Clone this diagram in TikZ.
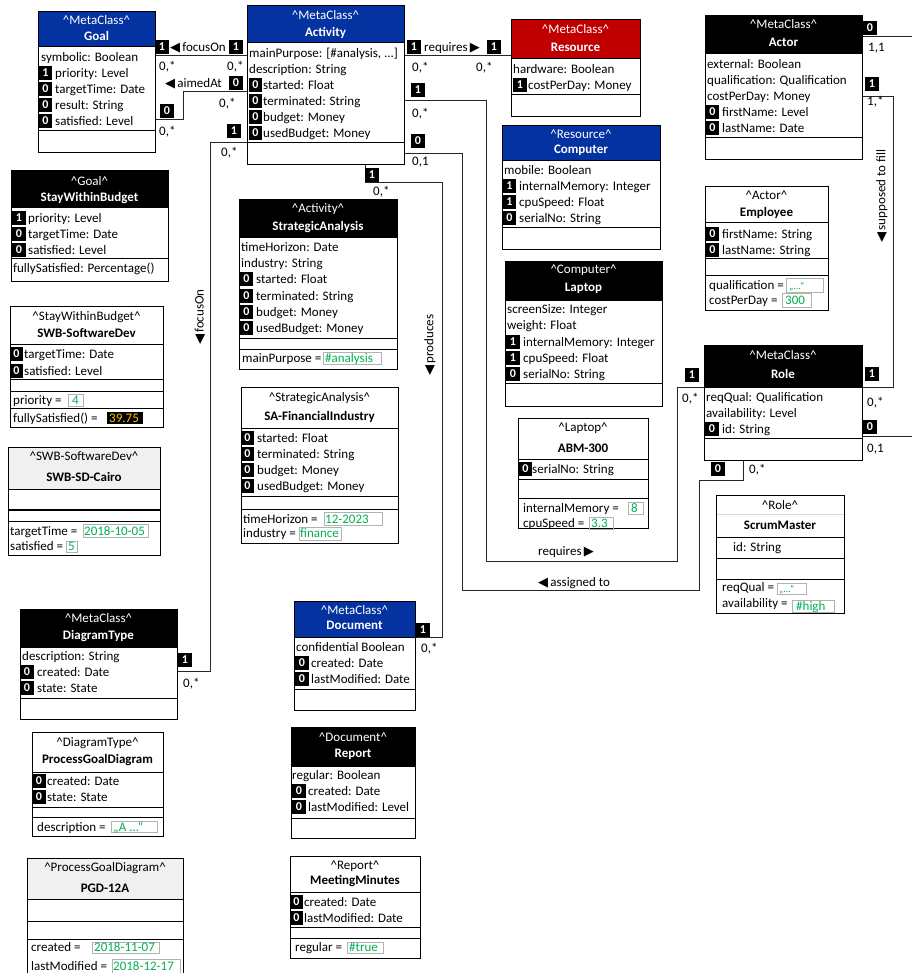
\documentclass[tikz,border=0pt]{standalone}
\usepackage{fontspec}
\setmainfont{Carlito}
\newfontfamily\symfont{DejaVu Sans}
\definecolor{hblue}{RGB}{4,50,160}
\definecolor{hred}{RGB}{192,0,0}
\definecolor{hgrey}{RGB}{240,240,240}
\definecolor{vgreen}{RGB}{0,176,80}
\definecolor{vorange}{RGB}{255,192,0}
\newcommand\fs{\fontsize{13}{15}\selectfont}
\newcommand\trileft{{\symfont\fontsize{13}{13}\selectfont ◀}}
\newcommand\triright{{\symfont\fontsize{13}{13}\selectfont ▶}}
\newcommand\st[1]{\textasciicircum #1\textasciicircum}
\tikzset{
 classframe/.style={draw=black, line width=1.1pt, inner sep=0pt, anchor=north west},
 cpt/.style={line width=1pt},
 atr/.style={anchor=base west, inner sep=0pt, font=\fs, yshift=-4.5pt},
 stereo/.style={anchor=base, inner sep=0pt, font=\fs, yshift=-4.5pt},
 cname/.style={anchor=base, inner sep=0pt, font=\fs\bfseries, yshift=-4.5pt},
 badge/.style={fill=black, text=white, font=\fontsize{12}{12}\selectfont\bfseries, minimum width=13.5pt, minimum height=14pt, inner sep=0pt},
 vframe/.style={draw=black!30, line width=0.7pt},
 vtxt/.style={anchor=base west, inner sep=0pt, font=\fs, text=vgreen, yshift=-4.5pt},
 mult/.style={anchor=base west, inner sep=0pt, font=\fs, yshift=-4.5pt},
 vlab/.style={anchor=center, inner sep=0pt, font=\fs, rotate=90},
 conn/.style={draw=black!85, line width=0.8pt},
}
\begin{document}
\begin{tikzpicture}[x=1pt,y=-1pt]
\useasboundingbox (0,0) rectangle (912,973);
\fill[white] (0,0) rectangle (912,973);

% ---------------- Goal
\fill[hblue] (38,11) rectangle (155,47);
\draw[cpt] (38,47)--(155,47) (38,131)--(155,131);
\node[classframe, minimum width=117pt, minimum height=141pt] (goal) at (38,11) {};
\node[stereo,text=white] (goalS) at (96.5,20) {\st{MetaClass}};
\node[cname,text=white] (goalN) at (96.5,36) {Goal};
\node[atr] at (41,57) {symbolic: Boolean};
\node[badge] at (45.5,73) {1}; \node[atr] at (55,73) {priority: Level};
\node[badge] at (45.5,89) {0}; \node[atr] at (55,89) {targetTime: Date};
\node[badge] at (45.5,105) {0}; \node[atr] at (55,105) {result: String};
\node[badge] at (45.5,121) {0}; \node[atr] at (55,121) {satisfied: Level};

% ---------------- Activity
\fill[hblue] (247,5) rectangle (404,43);
\draw[cpt] (247,43)--(404,43) (247,143)--(404,143);
\node[classframe, minimum width=157pt, minimum height=159pt] (act) at (247,5) {};
\node[stereo,text=white] at (325.5,15) {\st{MetaClass}};
\node[cname,text=white] at (325.5,32) {Activity};
\node[atr] at (249,53) {mainPurpose: [\#analysis, ...]};
\node[atr] at (249,69) {description: String};
\node[badge] at (255.5,85) {0}; \node[atr] at (263,85) {started: Float};
\node[badge] at (255.5,101) {0}; \node[atr] at (263,101) {terminated: String};
\node[badge] at (255.5,117) {0}; \node[atr] at (263,117) {budget: Money};
\node[badge] at (255.5,133) {0}; \node[atr] at (263,133) {usedBudget: Money};

% ---------------- Resource
\fill[hred] (511,19) rectangle (640,59);
\draw[cpt] (511,59)--(640,59) (511,95)--(640,95);
\node[classframe, minimum width=129pt, minimum height=97pt] (res) at (511,19) {};
\node[stereo,text=white] at (575.5,29) {\st{MetaClass}};
\node[cname,text=white] at (575.5,47) {Resource};
\node[atr] at (513,69) {hardware: Boolean};
\node[badge] at (520,85) {1}; \node[atr] at (528,85) {costPerDay: Money};

% ---------------- Computer
\fill[hblue] (502,125) rectangle (660,161);
\draw[cpt] (502,161)--(660,161) (502,228)--(660,228);
\node[classframe, minimum width=158pt, minimum height=124pt] (comp) at (502,125) {};
\node[stereo,text=white] at (581,134) {\st{Resource}};
\node[cname,text=white] at (581,149) {Computer};
\node[atr] at (504,170) {mobile: Boolean};
\node[badge] at (509.5,186) {1}; \node[atr] at (519,186) {internalMemory: Integer};
\node[badge] at (509.5,202) {1}; \node[atr] at (519,202) {cpuSpeed: Float};
\node[badge] at (509.5,218) {0}; \node[atr] at (519,218) {serialNo: String};

% ---------------- Actor
\fill[black] (705,15) rectangle (862,54);
\draw[cpt] (705,54)--(862,54) (705,138)--(862,138);
\node[classframe, minimum width=157pt, minimum height=144pt] (actor) at (705,15) {};
\node[stereo,text=white] at (783.5,24) {\st{MetaClass}};
\node[cname,text=white] at (783.5,42) {Actor};
\node[atr] at (707,64) {external: Boolean};
\node[atr] at (707,80) {qualification: Qualification};
\node[atr] at (707,96) {costPerDay: Money};
\node[badge] at (712.5,112) {0}; \node[atr] at (722,112) {firstName: Level};
\node[badge] at (712.5,128) {0}; \node[atr] at (722,128) {lastName: Date};

% ---------------- Employee
\draw[cpt] (705,223)--(828,223) (705,259)--(828,259) (705,276)--(828,276);
\node[classframe, minimum width=123pt, minimum height=124pt] (empl) at (705,186) {};
\node[stereo] at (766.5,195) {\st{Actor}};
\node[cname] at (766.5,212) {Employee};
\node[badge] at (712.5,234) {0}; \node[atr] at (722,234) {firstName: String};
\node[badge] at (712.5,250) {0}; \node[atr] at (722,250) {lastName: String};
\node[atr] at (709,285) {qualification =};
\draw[vframe] (786,278) rectangle (823,292);
\node[vtxt, font=\fontsize{10}{10}\selectfont] at (789,285) {„...“};
\node[atr] at (709,300) {costPerDay =};
\draw[vframe] (782,293) rectangle (811,307);
\node[vtxt] at (785,300) {300};

% ---------------- Role
\fill[black] (704,345) rectangle (862,387);
\draw[cpt] (704,387)--(862,387) (704,438)--(862,438);
\node[classframe, minimum width=158pt, minimum height=115pt] (role) at (704,345) {};
\node[stereo,text=white] at (783,355) {\st{MetaClass}};
\node[cname,text=white] at (783,374) {Role};
\node[atr] at (706,397) {reqQual: Qualification};
\node[atr] at (706,413) {availability: Level};
\node[badge] at (712,429) {0}; \node[atr] at (722,429) {id: String};

% ---------------- ScrumMaster
\draw[black!15, line width=0.6pt] (716,514)--(844,514);
\draw[cpt] (716,537)--(844,537) (716,558)--(844,558) (716,579)--(844,579);
\node[classframe, minimum width=128pt, minimum height=118pt] (scrum) at (716,495) {};
\node[stereo] at (780,505) {\st{Role}};
\node[cname] at (780,525) {ScrumMaster};
\node[atr] at (733,547) {id: String};
\node[atr] at (722,587) {reqQual =};
\draw[vframe] (777,583) rectangle (806,594);
\node[vtxt, font=\fontsize{10}{10}\selectfont] at (779,588) {„...“};
\node[atr] at (722,603) {availability =};
\draw[vframe] (792,600) rectangle (834,612);
\node[vtxt] at (796,606) {\#high};

% ---------------- StayWithinBudget
\fill[black] (11,170) rectangle (168,208);
\draw[cpt] (11,208)--(168,208) (11,259)--(168,259);
\node[classframe, minimum width=157pt, minimum height=111pt] (swb) at (11,170) {};
\node[stereo,text=white] at (89.5,181) {\st{Goal}};
\node[cname,text=white] at (89.5,197) {StayWithinBudget};
\node[badge] at (19,218) {1}; \node[atr] at (28,218) {priority: Level};
\node[badge] at (19,234) {0}; \node[atr] at (28,234) {targetTime: Date};
\node[badge] at (19,250) {0}; \node[atr] at (28,250) {satisfied: Level};
\node[atr] at (13,268) {fullySatisfied: Percentage()};

% ---------------- SWB-SoftwareDev
\draw[cpt] (10,344)--(163,344) (10,379)--(163,379) (10,391)--(163,391) (10,408)--(163,408);
\node[classframe, minimum width=153pt, minimum height=121pt] (swbsd) at (10,306) {};
\node[stereo] at (86.5,316) {\st{StayWithinBudget}};
\node[cname] at (86.5,333) {SWB-SoftwareDev};
\node[badge] at (16.5,354) {0}; \node[atr] at (24,354) {targetTime: Date};
\node[badge] at (16.5,371) {0}; \node[atr] at (24,371) {satisfied: Level};
\node[atr] at (13,400) {priority =};
\draw[vframe] (68,394) rectangle (83,406);
\node[vtxt] at (72,400) {4};
\node[atr] at (13,418) {fullySatisfied() =};
\fill[black] (107,412) rectangle (143,424);
\node[vtxt, text=vorange] at (109,418) {39.75};

% ---------------- SWB-SD-Cairo
\fill[hgrey] (8,447) rectangle (160,489);
\draw[cpt] (8,489)--(160,489) (8,521)--(160,521);
\draw[line width=1.8pt] (8,510)--(160,510);
\node[classframe, minimum width=152pt, minimum height=108pt] (cairo) at (8,447) {};
\node[stereo] at (84,456) {\st{SWB-SoftwareDev}};
\node[cname] at (84,477) {SWB-SD-Cairo};
\node[atr] at (10,531) {targetTime =};
\draw[vframe] (83,524) rectangle (148,537);
\node[vtxt] at (84,531) {2018-10-05};
\node[atr] at (10,546) {satisfied =};
\draw[vframe] (66,541) rectangle (77,552);
\node[vtxt] at (68,546) {5};

% ---------------- DiagramType
\fill[black] (20,609) rectangle (177,647);
\draw[cpt] (20,647)--(177,647) (20,698)--(177,698);
\node[classframe, minimum width=157pt, minimum height=110pt] (dtype) at (20,609) {};
\node[stereo,text=white] at (98.5,618) {\st{MetaClass}};
\node[cname,text=white] at (98.5,635) {DiagramType};
\node[atr] at (22,656) {description: String};
\node[badge] at (27,672) {0}; \node[atr] at (37,672) {created: Date};
\node[badge] at (27,688) {0}; \node[atr] at (37,688) {state: State};

% ---------------- ProcessGoalDiagram
\draw[cpt] (32,772)--(163,772) (32,807)--(163,807) (32,817)--(163,817);
\node[classframe, minimum width=131pt, minimum height=104pt] (pgd) at (32,732) {};
\node[stereo] at (97.5,742) {\st{DiagramType}};
\node[cname] at (97.5,759) {ProcessGoalDiagram};
\node[badge] at (39,781) {0}; \node[atr] at (47,781) {created: Date};
\node[badge] at (39,797) {0}; \node[atr] at (47,797) {state: State};
\node[atr] at (37,827) {description =};
\draw[vframe] (111,821) rectangle (157,832);
\node[vtxt] at (113,827) {„A ...“};

% ---------------- PGD-12A
\fill[hgrey] (27,858) rectangle (183,899);
\draw[cpt] (27,899)--(183,899) (27,921)--(183,921) (27,939)--(183,939);
\node[classframe, minimum width=156pt, minimum height=125pt] (pgda) at (27,858) {};
\node[stereo] at (105,867) {\st{ProcessGoalDiagram}};
\node[cname] at (105,888) {PGD-12A};
\node[atr] at (31,947) {created =};
\draw[vframe] (92,942) rectangle (159,953);
\node[vtxt] at (94,947) {2018-11-07};
\node[atr] at (31,966) {lastModified =};
\draw[vframe] (112,959) rectangle (180,973);
\node[vtxt] at (113,966) {2018-12-17};

% ---------------- StrategicAnalysis
\fill[black] (239,199) rectangle (397,238);
\draw[cpt] (239,238)--(397,238) (239,338)--(397,338) (239,349)--(397,349);
\node[classframe, minimum width=158pt, minimum height=170pt] (stra) at (239,199) {};
\node[stereo,text=white] at (318,208) {\st{Activity}};
\node[cname,text=white] at (318,226) {StrategicAnalysis};
\node[atr] at (241,247) {timeHorizon: Date};
\node[atr] at (241,263) {industry: String};
\node[badge] at (246.5,279) {0}; \node[atr] at (256,279) {started: Float};
\node[badge] at (246.5,296) {0}; \node[atr] at (256,296) {terminated: String};
\node[badge] at (246.5,312) {0}; \node[atr] at (256,312) {budget: Money};
\node[badge] at (246.5,328) {0}; \node[atr] at (256,328) {usedBudget: Money};
\node[atr] at (242,358) {mainPurpose =};
\draw[vframe] (323,352) rectangle (381,364);
\node[vtxt] at (325,358) {\#analysis};

% ---------------- SA-FinancialIndustry
\draw[cpt] (241,428)--(398,428) (241,496)--(398,496) (241,509)--(398,509);
\node[classframe, minimum width=157pt, minimum height=156pt] (safi) at (241,387) {};
\node[stereo] at (319.5,397) {\st{StrategicAnalysis}};
\node[cname] at (319.5,416) {SA-FinancialIndustry};
\node[badge] at (247.5,438) {0}; \node[atr] at (257,438) {started: Float};
\node[badge] at (247.5,454) {0}; \node[atr] at (257,454) {terminated: String};
\node[badge] at (247.5,470) {0}; \node[atr] at (257,470) {budget: Money};
\node[badge] at (247.5,486) {0}; \node[atr] at (257,486) {usedBudget: Money};
\node[atr] at (243,519) {timeHorizon =};
\draw[vframe] (324,512) rectangle (382,525);
\node[vtxt] at (325,519) {12-2023};
\node[atr] at (243,533) {industry =};
\draw[vframe] (299,527) rectangle (341,540);
\node[vtxt] at (300,533) {finance};

% ---------------- Laptop
\fill[black] (505,261) rectangle (662,300);
\draw[cpt] (505,300)--(662,300) (505,383)--(662,383);
\node[classframe, minimum width=157pt, minimum height=145pt] (lap) at (505,261) {};
\node[stereo,text=white] at (583.5,269) {\st{Computer}};
\node[cname,text=white] at (583.5,287) {Laptop};
\node[atr] at (507,309) {screenSize: Integer};
\node[atr] at (507,325) {weight: Float};
\node[badge] at (513,342) {1}; \node[atr] at (523,342) {internalMemory: Integer};
\node[badge] at (513,358) {1}; \node[atr] at (523,358) {cpuSpeed: Float};
\node[badge] at (513,374) {0}; \node[atr] at (523,374) {serialNo: String};

% ---------------- ABM-300
\draw[cpt] (518,459)--(648,459) (518,479)--(648,479) (518,498)--(648,498);
\node[classframe, minimum width=130pt, minimum height=110pt] (abm) at (518,418) {};
\node[stereo] at (583,427) {\st{Laptop}};
\node[cname] at (583,448) {ABM-300};
\node[badge] at (525.5,469) {0}; \node[atr] at (532,469) {serialNo: String};
\node[atr] at (523,508) {internalMemory =};
\draw[vframe] (628,502) rectangle (643,514);
\node[vtxt] at (631,508) {8};
\node[atr] at (523,523) {cpuSpeed =};
\draw[vframe] (589,517) rectangle (613,529);
\node[vtxt] at (591,523) {3.3};

% ---------------- Document
\fill[hblue] (294,601) rectangle (415,637);
\draw[cpt] (294,637)--(415,637) (294,689)--(415,689);
\node[classframe, minimum width=121pt, minimum height=109pt] (doc) at (294,601) {};
\node[stereo,text=white] at (354.5,610) {\st{MetaClass}};
\node[cname,text=white] at (354.5,625) {Document};
\node[atr] at (296,647) {confidential Boolean};
\node[badge] at (302,663) {0}; \node[atr] at (311,663) {created: Date};
\node[badge] at (302,679) {0}; \node[atr] at (311,679) {lastModified: Date};

% ---------------- Report
\fill[black] (291,727) rectangle (415,766);
\draw[cpt] (291,766)--(415,766) (291,818)--(415,818);
\node[classframe, minimum width=124pt, minimum height=111pt] (rep) at (291,727) {};
\node[stereo,text=white] at (353,737) {\st{Document}};
\node[cname,text=white] at (353,753) {Report};
\node[atr] at (292,775) {regular: Boolean};
\node[badge] at (299,791) {0}; \node[atr] at (308,791) {created: Date};
\node[badge] at (299,807) {0}; \node[atr] at (308,807) {lastModified: Level};

% ---------------- MeetingMinutes
\draw[cpt] (290,892)--(420,892) (290,927)--(420,927) (290,938)--(420,938);
\node[classframe, minimum width=130pt, minimum height=102pt] (mm) at (290,856) {};
\node[stereo] at (355,865) {\st{Report}};
\node[cname] at (355,880) {MeetingMinutes};
\node[badge] at (296.5,902) {0}; \node[atr] at (304,902) {created: Date};
\node[badge] at (296.5,918) {0}; \node[atr] at (304,918) {lastModified: Date};
\node[atr] at (295,947) {regular =};
\draw[vframe] (347,942) rectangle (383,953);
\node[vtxt] at (349,947) {\#true};

% ================= Connectors
% focusOn (Goal - Activity)
\draw[conn] (goal.east |- 0,55) -- (act.west |- 0,55);
\node[badge] at (162,47) {1};
\node[mult] at (170,47) {\trileft\,focusOn};
\node[badge] at (236,47) {1};
\node[mult] at (159,66) {0,*};
\node[mult] at (227,66) {0,*};

% aimedAt
\draw[conn] (goal.east |- 0,119) -- (183,119) -- (183,91) -- (act.west |- 0,91);
\node[mult] at (165,83) {\trileft\,aimedAt};
\node[badge] at (236,83) {0};
\node[mult] at (219,103) {0,*};
\node[badge] at (167,111) {0};
\node[mult] at (159,131) {0,*};

% focusOn (DiagramType - Activity)
\draw[conn] (act.west |- 0,142) -- (210,142) -- (210,671) -- (dtype.east |- 0,671);
\node[badge] at (234,131) {1};
\node[mult] at (221,152) {0,*};
\node[badge] at (185,660) {1};
\node[mult] at (183,683) {0,*};
\node[vlab] at (200,317) {\trileft\,focusOn};

% requires (Activity - Resource)
\draw[conn] (act.east |- 0,55) -- (res.west |- 0,55);
\node[badge] at (414,47) {1};
\node[mult] at (424,47) {requires\,\triright};
\node[badge] at (494,47) {1};
\node[mult] at (412,67) {0,*};
\node[mult] at (476,67) {0,*};

% requires (Activity - Role)
\draw[conn] (act.east |- 0,100) -- (486,100) -- (486,561) -- (677,561) -- (677,387) -- (role.west |- 0,387);
\node[badge] at (418,90) {1};
\node[mult] at (412,113) {0,*};
\node[badge] at (692,375) {1};
\node[mult] at (682,398) {0,*};
\node[mult] at (538,551) {requires\,\triright};

% assigned to (Activity - Role)
\draw[conn] (act.east |- 0,153) -- (462,153) -- (462,590) -- (699,590) -- (699,480) -- (743,480) -- (role.south -| 743,0);
\node[badge] at (418,141) {0};
\node[mult] at (412,161) {0,1};
\node[badge] at (718,469) {0};
\node[mult] at (749,469) {0,*};
\node[mult] at (538,582) {\trileft\,assigned to};

% produces (Activity - Document)
\draw[conn] (act.south -| 365,0) -- (365,182) -- (442,182) -- (442,637) -- (doc.east |- 0,637);
\node[badge] at (372,175) {1};
\node[mult] at (373,191) {0,*};
\node[badge] at (423,630) {1};
\node[mult] at (421,648) {0,*};
\node[vlab] at (430,345) {\trileft\,produces};

% supposed to fill (Actor - Role)
\draw[conn] (actor.east |- 0,96) -- (893,96) -- (893,387) -- (role.east |- 0,387);
\node[badge] at (872,84) {1};
\node[mult] at (867,101) {1,*};
\node[badge] at (872,374) {1};
\node[mult] at (867,402) {0,*};
\node[vlab] at (882,196) {\trileft\,supposed to fill};

% Actor - off page
\coordinate (edgeA) at (912,36);
\draw[conn] (actor.east |- 0,36) -- (edgeA);
\node[badge] at (870,28) {0};
\node[mult] at (868,47) {1,1};

% Role - off page
\coordinate (edgeR) at (912,436);
\draw[conn] (role.east |- 0,436) -- (edgeR);
\node[badge] at (870,427) {0};
\node[mult] at (867,448) {0,1};
\end{tikzpicture}
\end{document}
